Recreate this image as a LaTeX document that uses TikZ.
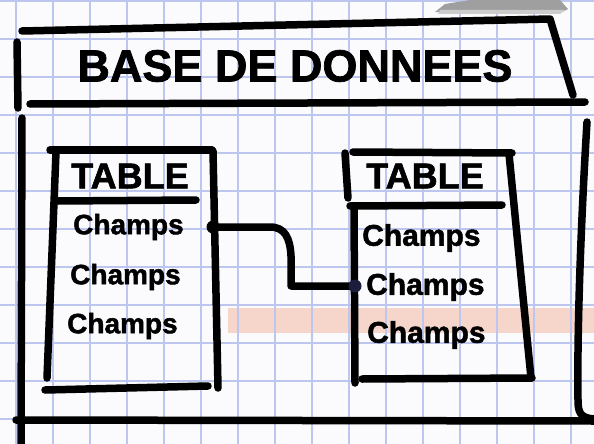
\documentclass[tikz,border=0pt]{standalone}
\usepackage{fontspec}
\setmainfont{Liberation Sans}[BoldFeatures={FakeBold=1.6}]
\begin{document}
\begin{tikzpicture}[x=1pt,y=-1pt,
  marker/.style={line width=7.5pt,line cap=round,line join=round,black},
  gridline/.style={line width=1.3pt,draw=gridblue},
  titletext/.style={font=\fontsize{45}{45}\selectfont\bfseries,inner sep=0pt},
  headtext/.style={font=\fontsize{36}{36}\selectfont\bfseries,inner sep=0pt},
  fieldtext/.style={font=\fontsize{28}{28}\selectfont\bfseries,inner sep=0pt,anchor=west},
  fieldtextb/.style={font=\fontsize{30}{30}\selectfont\bfseries,inner sep=0pt,anchor=west},
  linkdot/.style={circle,fill=#1,inner sep=0pt,minimum size=13pt}
]
\definecolor{gridblue}{HTML}{BCC6EF}
\definecolor{paper}{HTML}{FBFBFE}
\definecolor{band}{HTML}{F6D6CB}
\definecolor{inkblue}{HTML}{1C1C3C}
\useasboundingbox (0,0) rectangle (594,444);
% paper
\fill[paper] (0,0) rectangle (594,444);
\fill[band] (228,308) rectangle (594,333);
\foreach \i in {0,...,15} {\draw[gridline] (16+37*\i,0) -- (16+37*\i,444);}
\foreach \j in {0,...,11} {\draw[gridline] (0,1+38*\j) -- (594,1+38*\j);}
% object at top right
\fill[gray!75] (435,12) -- (445,4) -- (470,0) -- (560,0) -- (568,9) -- (560,13) -- cycle;
\fill[gray!40] (440,10) -- (565,10) -- (560,14) -- (438,14) -- cycle;

% outer database frame
\draw[marker] (22,31) -- (550,19) -- (573,95);
\draw[marker] (17,42) -- (18,108);
\draw[marker] (30,104) -- (585,102);
\draw[marker] (22,118) -- (21,444);
\draw[marker] (16,420) -- (594,421);
\draw[marker] (587,122) .. controls (581,220) and (577,330) .. (578,400) .. controls (578,412) and (580,418) .. (594,419);
\node[titletext] (title) at (295,66) {BASE DE DONNEES};

% left table
\draw[marker] (50,150) -- (212,150);
\draw[marker] (56,152) -- (47,378);
\draw[marker] (213,151) -- (218,388);
\draw[marker] (58,201) -- (196,200);
\draw[marker] (45,390) -- (208,386);
\node[headtext] (t1) at (130,176) {TABLE};
\node[fieldtext] (f11) at (73,227) {Champs};
\node[fieldtext] (f12) at (70,277) {Champs};
\node[fieldtext] (f13) at (67,326) {Champs};

% right table
\draw[marker] (353,152) -- (512,153);
\draw[marker] (345,153) -- (348,198);
\draw[marker] (350,206) -- (502,205);
\draw[marker] (354,208) -- (355,383);
\draw[marker] (509,154) -- (531,378);
\draw[marker] (362,379) -- (532,378);
\node[headtext] (t2) at (425,176) {TABLE};
\node[fieldtextb] (f21) at (362,238) {Champs};
\node[fieldtextb] (f22) at (366,287) {Champs};
\node[fieldtextb] (f23) at (367,335) {Champs};

% link between fields
\coordinate (c1) at (213,227);
\coordinate (c2) at (355,286);
\draw[marker] (c1) -- (270,227) .. controls (285,227) and (290,238) .. (291,256) -- (291,286) -- (c2);
\node[linkdot=black] (d1) at (c1) {};
\node[linkdot=inkblue] (d2) at (c2) {};
\end{tikzpicture}
\end{document}
